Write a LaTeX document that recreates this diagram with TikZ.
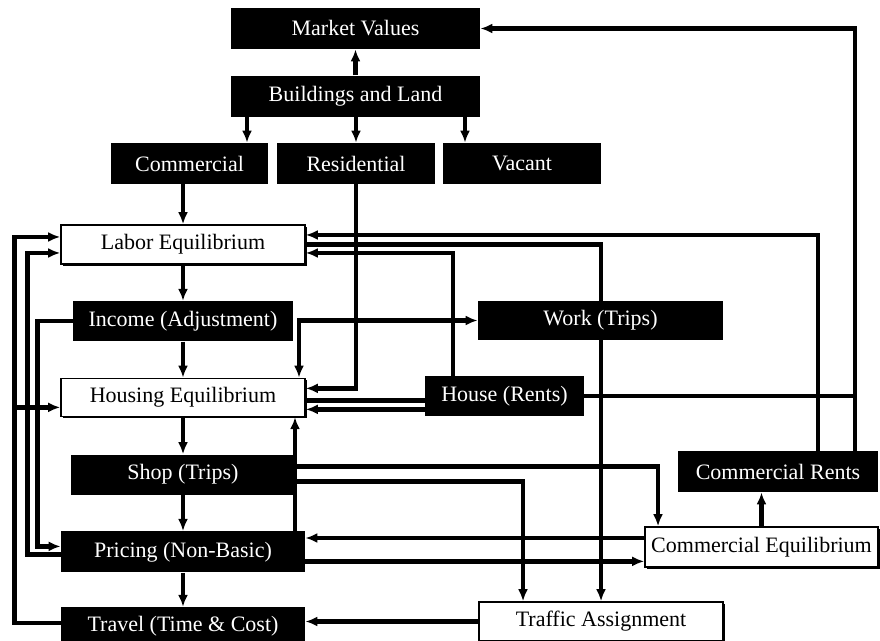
\documentclass[tikz,border=0pt]{standalone}
\usepackage{fontspec}
\setmainfont{Liberation Serif}
\usetikzlibrary{arrows.meta,positioning,shadows,backgrounds}

\begin{document}
\begin{tikzpicture}[
  x=0.5pt, y=-0.5pt,
  >={Latex[length=6pt,width=5pt]},
  blk/.style={fill=black, text=white, minimum height=20pt, inner sep=0pt, font=\fontsize{11}{13}\selectfont},
  wht/.style={draw, fill=white, line width=0.8pt, minimum height=19.5pt, inner sep=0pt, font=\fontsize{11}{13}\selectfont,
    general shadow={fill=black, shadow xshift=1pt, shadow yshift=-1pt}},
  wire/.style={line width=2.2pt},
  arr/.style={wire, ->}
]
  \useasboundingbox (0,0) rectangle (880,641);

  % top block
  \node[blk, minimum width=124.5pt, minimum height=20.5pt] (mv) at (355.5,28.5) {Market Values};
  \node[blk, minimum width=124.5pt, minimum height=20.5pt, below=13pt of mv] (bl) {Buildings and Land};
  \node[blk, minimum width=78.5pt, minimum height=20.5pt] (com) at (189.5,163.5) {Commercial};
  \node[blk, minimum width=79pt, minimum height=20.5pt] (res) at (356,163.5) {Residential};
  \node[blk, minimum width=79pt, minimum height=20.5pt] (vac) at (522,163.5) {Vacant};

  % left column
  \node[wht, minimum width=122pt] (labor) at (183,244.5) {Labor Equilibrium};
  \node[blk, minimum width=110pt, below=18pt of labor] (inc) {Income (Adjustment)};
  \node[wht, minimum width=122pt, minimum height=19pt, below=18pt of inc] (hous) {Housing Equilibrium};
  \node[blk, minimum width=112pt, below=18.5pt of hous] (shop) {Shop (Trips)};
  \node[blk, minimum width=122pt, minimum height=20.5pt, below=18pt of shop] (pric) {Pricing (Non-Basic)};
  \node[blk, minimum width=122pt, minimum height=19.5pt, below=17pt of pric] (trav) {Travel (Time \& Cost)};

  % right side
  \node[blk, minimum width=122.5pt, minimum height=19.5pt] (work) at (600.5,320.5) {Work (Trips)};
  \node[blk, minimum width=79.5pt] (hr) at (504.5,396) {House (Rents)};
  \node[blk, minimum width=100pt, minimum height=20.5pt] (crent) at (778,471.5) {Commercial Rents};
  \node[wht, minimum width=116.5pt, minimum height=20pt] (ceq) at (761.5,547) {Commercial Equilibrium};
  \node[wht, minimum width=122pt] (traf) at (601,621.5) {Traffic Assignment};

  \begin{scope}[on background layer]
  % top links
  \draw[arr] (bl) -- (mv);
  \draw[arr] ([xshift=28.75pt]com.north |- bl.south) -- ([xshift=28.75pt]com.north);
  \draw[arr] (res.north |- bl.south) -- (res.north);
  \draw[arr] ([xshift=-28.5pt]vac.north |- bl.south) -- ([xshift=-28.5pt]vac.north);
  \draw[arr] (labor.north |- com.south) -- (labor.north);
  \draw[arr] (res.south) |- ([yshift=4.5pt]hous.east);

  % left column chain
  \draw[arr] (labor) -- (inc);
  \draw[arr] (inc) -- (hous);
  \draw[arr] (hous.south) -- (hous.south |- shop.north);
  \draw[arr] (pric.north |- shop.south) -- (pric.north);
  \draw[arr] (pric) -- (trav);

  % feedback on the left
  \draw[arr] ([yshift=1.75pt]trav.west) -- ++(-23pt,0) |- ([yshift=3.75pt]labor.west);
  \draw[arr] ([xshift=-23pt,yshift=-5pt]hous.west) -- ([yshift=-5pt]hous.west);
  \draw[arr] ([yshift=-1.25pt]pric.west) -- ++(-16.5pt,0) |- ([yshift=-4.25pt]labor.west);
  \draw[arr] (inc.west) -- ++(-17.5pt,0) |- ([yshift=2.75pt]pric.west);

  % labor links
  \draw[arr] ([xshift=20pt]crent.north) |- ([yshift=4.75pt]labor.east);
  \draw[arr] (labor.east) -| (traf.north);
  \draw[arr] ([xshift=-25.75pt]hr.north) |- ([yshift=-4.25pt]labor.east);

  % housing links
  \draw[wire, <->] ([xshift=58pt]hous.north) |- (work.west);
  \draw[arr] ([xshift=56pt]pric.north) -- ([xshift=56pt]pric.north |- hous.south);
  \draw[wire] ([yshift=-1.5pt]hous.east) -- ([yshift=-1.5pt]hous.east -| hr.west);
  \draw[arr] ([yshift=-6pt]hous.east -| hr.west) -- ([yshift=-6pt]hous.east);

  % rents to market values
  \draw[arr] ([xshift=38.5pt]crent.north) |- (mv.east);
  \draw[wire] (hr.east) -- ([xshift=38.5pt]crent.north |- hr.east);

  % shop, pricing and commercial
  \draw[arr] ([yshift=4pt]shop.east) -| ([xshift=-51.75pt]ceq.north);
  \draw[arr] ([yshift=-3.5pt]shop.east) -| ([xshift=-39pt]traf.north);
  \draw[arr] ([yshift=4.5pt]ceq.west) -- ([yshift=4.5pt]ceq.west -| pric.east);
  \draw[arr] ([yshift=-4.75pt]pric.east) -- ([yshift=-4.75pt]pric.east -| ceq.west);
  \draw[arr] (ceq.north) -- (ceq.north |- crent.south);
  \draw[arr] (traf.west) -- (traf.west -| trav.east);
  \end{scope}
\end{tikzpicture}
\end{document}
